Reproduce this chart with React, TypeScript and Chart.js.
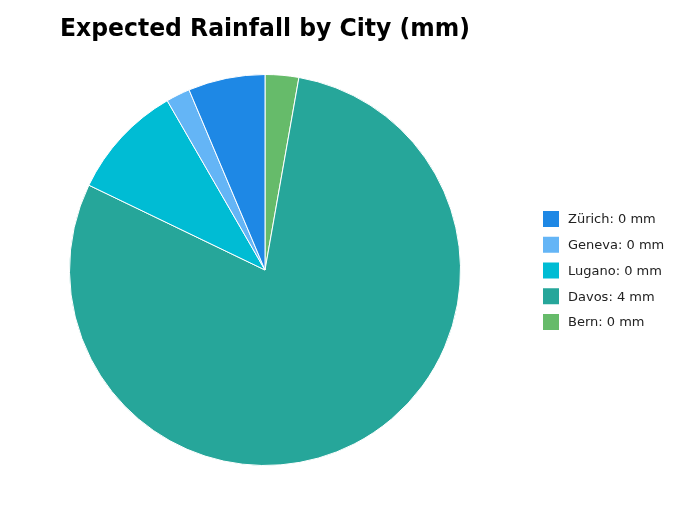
import React, { useRef, useEffect } from 'react';
import { Chart, registerables } from 'chart.js';

Chart.register(...registerables);

const cities = ['Zürich', 'Geneva', 'Lugano', 'Davos', 'Bern'];
const rainfall = [0.32, 0.1, 0.48, 4.0, 0.14];
const colors = ['#1E88E5', '#64B5F6', '#00BCD4', '#26A69A', '#66BB6A'];

const FONT = '"DejaVu Sans", sans-serif';

// legend drawn beside the pie, in the original order
const sideLegend = {
  id: 'sideLegend',
  afterDraw(chart) {
    const { ctx, chartArea } = chart;
    const x = chartArea.right + 73;
    const midY = (chartArea.top + chartArea.bottom) / 2;
    const step = 25.75;
    ctx.save();
    ctx.font = `13px ${FONT}`;
    ctx.textBaseline = 'middle';
    ctx.textAlign = 'left';
    cities.forEach((c, i) => {
      const y = midY + 0.5 + (i - (cities.length - 1) / 2) * step;
      ctx.fillStyle = colors[i];
      ctx.fillRect(x, y - 8, 16, 16);
      ctx.fillStyle = '#222';
      ctx.fillText(`${c}: ${rainfall[i].toFixed(0)} mm`, x + 25, y + 1);
    });
    ctx.restore();
  },
};

const App = () => {
  const chartRef = useRef(null);

  useEffect(() => {
    document.body.style.margin = '0';
    const ctx = chartRef.current.getContext('2d');
    // matplotlib-style counter-clockwise order: reverse for Chart.js (clockwise)
    const myPie = new Chart(ctx, {
      type: 'pie',
      data: {
        labels: [...cities].reverse(),
        datasets: [{
          data: [...rainfall].reverse(),
          backgroundColor: [...colors].reverse(),
          borderColor: '#ffffff',
          borderWidth: 1,
        }],
      },
      options: {
        responsive: false,
        animation: false,
        layout: { padding: { left: 60, right: 210, top: 0, bottom: 44 } },
        plugins: {
          legend: { display: false },
          tooltip: { enabled: false },
          title: {
            display: true,
            text: 'Expected Rainfall by City (mm)',
            align: 'start',
            color: '#000',
            font: { family: FONT, size: 24, weight: 'bold', lineHeight: 1.2 },
            padding: { top: 15, bottom: 30.2 },
          },
        },
      },
      plugins: [sideLegend],
    });

    return () => myPie.destroy();
  }, []);

  return (
    <div style={{ width: 680, height: 510 }}>
      <canvas ref={chartRef} width="680" height="510"></canvas>
    </div>
  );
};

export default App;
